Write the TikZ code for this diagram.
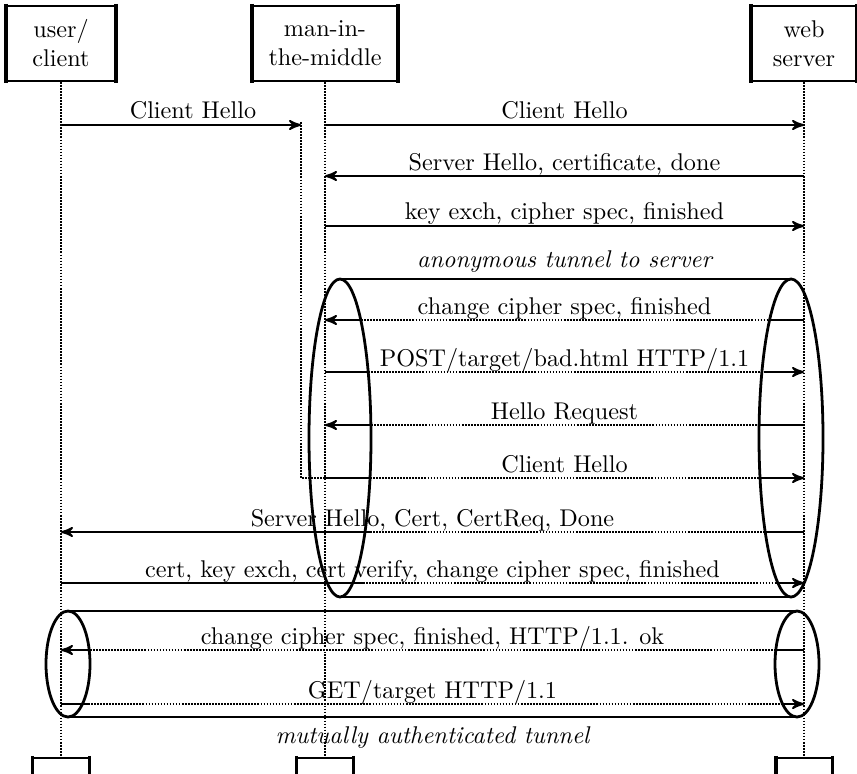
\documentclass[tikz,border=0pt]{standalone}
\usepackage{tikz}
\usetikzlibrary{arrows}
\tikzset{
    inst/.style = {draw=black, line width=0.8pt, align=center, inner sep=0pt, minimum height=31pt},
    inst_end/.style = {draw=black, line width=0.8pt, anchor=north, minimum width=22.7pt, minimum height=8pt, inner sep=0pt},
    life/.style = {line width=0.75pt, dash pattern=on 0.7pt off 0.55pt},
    msg/.style = {->, >=stealth', line width=0.8pt},
    msg_label/.style = {anchor=base, inner sep=0pt},
    tunnel/.style = {line width=1.15pt},
    tunnel_dots/.style = {life, preaction={draw=white, solid, line width=1.4pt}},
    tunnel_label/.style = {font=\itshape, anchor=base, inner sep=0pt}
}

\begin{document}
\begin{tikzpicture}[x=0.413pt, y=-0.413pt]
    \useasboundingbox (0,0) rectangle (857,773);
    % instances
    \node[inst, minimum width=44.6pt] (user) at (61,43.5) {user/\\client};
    \node[inst, minimum width=59.5pt] (mitm) at (325,43.5) {man-in-\\the-middle};
    \node[inst, minimum width=43pt] (server) at (804,43.5) {web\\server};
    \coordinate (bottom) at (0,757);
    \node[inst_end] (user_end) at (user |- bottom) {};
    \node[inst_end] (mitm_end) at (mitm |- bottom) {};
    \node[inst_end] (server_end) at (server |- bottom) {};
    \foreach \n in {user, mitm, server, user_end, mitm_end, server_end}
        \draw[line width=1.6pt] ([yshift=0.5pt]\n.north west) -- ([yshift=-0.5pt]\n.south west)
            ([yshift=0.5pt]\n.north east) -- ([yshift=-0.5pt]\n.south east);
    % lifelines
    \draw[life] (user.south) -- (user_end.north);
    \draw[life] (mitm.south) -- (mitm_end.north);
    \draw[life] (server.south) -- (server_end.north);
    \coordinate (thread) at (301,122);
    \coordinate (thread_end) at (301,478);
    \draw[life] (thread) -- (thread_end) -- (mitm |- thread_end);
    % message rows
    \coordinate (r1) at (0,125);
    \coordinate (r2) at (0,176);
    \coordinate (r3) at (0,226);
    \coordinate (r4) at (0,320);
    \coordinate (r5) at (0,372);
    \coordinate (r6) at (0,425);
    \coordinate (r7) at (0,478);
    \coordinate (r8) at (0,532);
    \coordinate (r9) at (0,583);
    \coordinate (r10) at (0,650);
    \coordinate (r11) at (0,704);
    % messages
    \draw[msg] (user |- r1) -- (thread |- r1);
    \draw[msg] (mitm |- r1) -- (server |- r1);
    \draw[msg] (server |- r2) -- (mitm |- r2);
    \draw[msg] (mitm |- r3) -- (server |- r3);
    \draw[msg] (server |- r4) -- (mitm |- r4);
    \draw[msg] (mitm |- r5) -- (server |- r5);
    \draw[msg] (server |- r6) -- (mitm |- r6);
    \draw[msg] (mitm |- r7) -- (server |- r7);
    \draw[msg] (server |- r8) -- (user |- r8);
    \draw[msg] (user |- r9) -- (server |- r9);
    \draw[msg] (server |- r10) -- (user |- r10);
    \draw[msg] (user |- r11) -- (server |- r11);
    % parts inside the tunnels
    \draw[tunnel_dots] (358,320) -- (770,320);
    \draw[tunnel_dots] (368,372) -- (764,372);
    \draw[tunnel_dots] (371,425) -- (759,425);
    \draw[tunnel_dots] (370,478) -- (760,478);
    \draw[tunnel_dots] (370,532) -- (765,532);
    \draw[tunnel_dots] (363,583) -- (775,583);
    \draw[tunnel_dots] (90,650) -- (775,650);
    \draw[tunnel_dots] (88,704) -- (783,704);
    % labels
    \node[msg_label] (l1a) at (193,119) {Client Hello};
    \node[msg_label] (l1b) at (564.5,119) {Client Hello};
    \node[msg_label] (l2) at (564.5,170) {Server Hello, certificate, done};
    \node[msg_label] (l3) at (564.5,220) {key exch, cipher spec, finished};
    \node[tunnel_label] (t1) at (564.5,267) {anonymous tunnel to server};
    \node[msg_label] (l4) at (564.5,314) {change cipher spec, finished};
    \node[msg_label] (l5) at (564.5,366) {POST/target/bad.html HTTP/1.1};
    \node[msg_label] (l6) at (564.5,419) {Hello Request};
    \node[msg_label] (l7) at (564.5,472) {Client Hello};
    \node[msg_label] (l8) at (432.5,526) {Server Hello, Cert, CertReq, Done};
    \node[msg_label] (l9) at (432.5,577) {cert, key exch, cert verify, change cipher spec, finished};
    \node[msg_label] (l10) at (432.5,644) {change cipher spec, finished, HTTP/1.1. ok};
    \node[msg_label] (l11) at (432.5,698) {GET/target HTTP/1.1};
    \node[tunnel_label] (t2) at (432.5,743) {mutually authenticated tunnel};
    % tunnels
    \draw[tunnel] (340,438) ellipse [x radius=31, y radius=159];
    \draw[tunnel] (791,438) ellipse [x radius=32, y radius=159];
    \draw[tunnel] (340,279) -- (791,279) (340,597) -- (791,597);
    \draw[tunnel] (68,664) ellipse [x radius=22, y radius=53];
    \draw[tunnel] (797,664) ellipse [x radius=22, y radius=53];
    \draw[tunnel] (68,611) -- (797,611) (68,717) -- (797,717);
\end{tikzpicture}
\end{document}
